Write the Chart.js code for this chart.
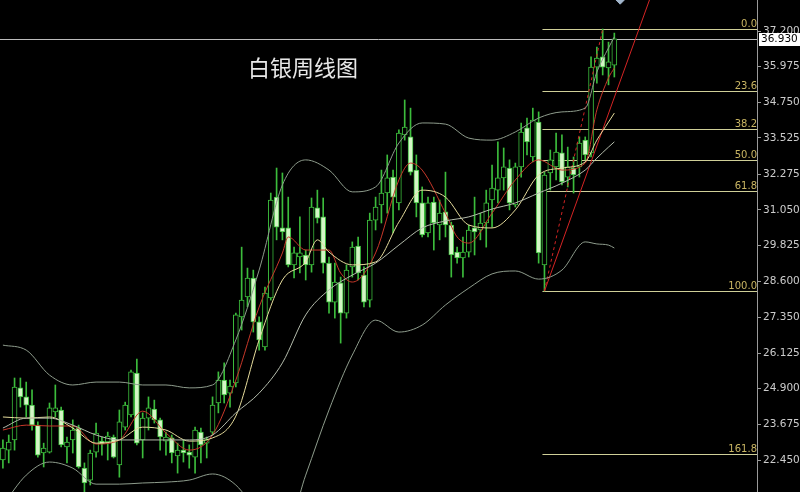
<!DOCTYPE html>
<html>
<head>
<meta charset="utf-8">
<script src="https://cdn.jsdelivr.net/npm/chart.js@4.4.1/dist/chart.umd.min.js"></script>
<style>
  html, body { margin: 0; padding: 0; background: #000; }
  #wrap { width: 800px; height: 492px; position: relative; }
</style>
</head>
<body>
<div id="wrap"><canvas id="silverWeekly"></canvas></div>
<script>
const chartTitle = "白银周线图";
const categories = Array.from({ length: 130 }, (_, i) => "W" + (i + 1));

// weekly candles
const opens = [
  22.45, 22.79, 23.14, 24.93, 24.62, 24.34, 23.65, 22.69, 22.72, 24.10,
  24.17, 22.90, 23.14, 23.55, 22.17, 21.76, 22.72, 23.10, 23.07, 23.24,
  22.28, 23.58, 24.00, 25.44, 23.14, 23.89, 24.20, 23.83, 23.10, 23.21,
  22.59, 22.79, 22.72, 22.55, 23.41, 23.03, 23.41, 24.41, 25.20, 24.75,
  25.10, 27.37, 28.06, 28.71, 27.20, 26.34, 28.02, 31.49, 30.43, 30.43,
  29.16, 29.43, 29.50, 29.16, 31.12, 30.81, 29.22, 27.88, 28.54, 27.50,
  29.09, 29.81, 28.81, 27.95, 30.70, 31.22, 31.63, 32.18, 31.29, 33.63,
  33.56, 32.42, 31.29, 30.26, 31.32, 30.53, 30.98, 30.53, 29.60, 29.40,
  29.60, 30.43, 30.36, 30.60, 31.39, 31.73, 32.15, 32.49, 31.22, 32.53,
  33.87, 32.87, 34.07, 29.16, 32.32, 32.53, 33.01, 32.18, 32.49, 32.53,
  33.45, 33.01, 35.96, 36.31, 35.93, 36.03
];
const highs = [
  23.14, 23.31, 25.27, 25.27, 25.13, 24.86, 23.76, 23.03, 24.41, 25.03,
  24.27, 23.24, 23.83, 23.65, 22.35, 22.79, 23.72, 23.24, 23.41, 23.31,
  24.17, 24.44, 25.54, 25.92, 24.07, 24.62, 24.51, 23.89, 23.41, 23.31,
  23.03, 23.14, 22.97, 23.58, 23.55, 23.24, 24.62, 25.48, 25.79, 25.20,
  27.50, 29.77, 29.05, 28.98, 27.37, 28.40, 31.63, 32.49, 32.32, 31.49,
  29.77, 30.81, 29.67, 31.46, 31.73, 31.46, 29.43, 29.22, 28.74, 29.16,
  29.95, 30.12, 29.09, 30.94, 31.49, 32.42, 32.94, 32.42, 33.80, 34.83,
  34.55, 32.94, 31.84, 31.49, 31.49, 31.39, 32.35, 30.63, 29.77, 30.12,
  30.53, 31.49, 30.94, 31.73, 32.59, 33.39, 33.18, 32.77, 32.66, 34.04,
  34.21, 34.55, 34.42, 32.35, 33.11, 33.69, 33.63, 33.21, 32.87, 33.56,
  33.56, 36.31, 36.65, 37.27, 36.82, 37.13
];
const lows = [
  22.17, 22.35, 22.79, 24.27, 23.93, 23.48, 22.55, 22.21, 22.69, 23.93,
  22.90, 22.35, 22.69, 22.17, 21.35, 21.59, 22.55, 22.62, 22.45, 22.52,
  21.86, 23.48, 23.93, 22.97, 22.52, 23.48, 23.72, 22.79, 22.62, 22.35,
  22.00, 22.38, 22.17, 22.00, 22.35, 22.52, 23.31, 24.07, 24.41, 24.27,
  24.96, 26.92, 27.71, 26.85, 26.23, 26.23, 27.95, 30.02, 30.02, 29.09,
  28.71, 28.88, 28.64, 28.91, 30.60, 28.88, 27.50, 27.33, 26.47, 27.33,
  28.74, 28.64, 27.71, 27.71, 30.36, 30.60, 30.94, 30.26, 31.05, 33.45,
  32.25, 30.81, 30.12, 30.12, 29.67, 30.02, 30.12, 28.74, 29.22, 28.74,
  29.43, 29.50, 30.02, 29.77, 30.46, 31.29, 31.73, 31.05, 31.15, 32.18,
  32.94, 32.70, 29.22, 28.26, 31.73, 32.08, 31.91, 31.84, 31.63, 32.18,
  32.77, 32.87, 35.41, 35.69, 35.35, 35.62
];
const closes = [
  22.86, 23.07, 24.96, 24.62, 24.34, 23.65, 22.62, 22.86, 24.24, 24.24,
  22.97, 23.07, 23.48, 22.21, 21.66, 22.69, 23.38, 23.00, 23.27, 22.55,
  23.76, 24.34, 25.48, 23.03, 23.89, 24.24, 23.83, 23.24, 23.24, 22.69,
  22.79, 22.69, 22.62, 23.48, 22.97, 23.14, 24.34, 25.20, 24.69, 24.99,
  27.44, 27.95, 28.71, 27.20, 26.58, 28.19, 31.39, 30.46, 30.29, 29.16,
  29.57, 29.57, 29.16, 31.15, 30.77, 29.22, 27.88, 28.57, 27.50, 28.98,
  29.77, 28.88, 27.88, 30.70, 31.15, 31.63, 32.15, 31.49, 33.69, 33.90,
  32.35, 31.29, 30.19, 31.29, 30.60, 30.94, 30.53, 29.50, 29.40, 29.60,
  30.36, 30.29, 30.60, 31.29, 31.80, 32.15, 32.53, 31.29, 32.53, 33.73,
  33.39, 34.14, 29.57, 32.25, 32.77, 33.04, 32.01, 32.53, 32.25, 33.35,
  32.94, 35.96, 36.27, 35.96, 36.14, 36.93
];

// indicator lines at these week indexes
const bandIdx = [0, 4, 8, 12, 16, 20, 24, 28, 32, 36, 40, 44, 48, 52, 56, 60, 64, 68, 72, 76, 80, 84, 88, 92, 96, 100, 102, 104, 105];
const upperBand = [26.40, 26.23, 25.37, 25.03, 25.13, 25.13, 25.03, 25.03, 24.93, 25.03, 26.58, 28.98, 31.91, 32.77, 32.42, 31.67, 31.84, 33.35, 34.04, 34.00, 33.52, 33.45, 33.73, 34.21, 34.42, 34.55, 35.79, 36.62, 37.00];
const midBand = [23.55, 23.89, 23.89, 23.65, 23.31, 23.14, 23.14, 23.14, 23.14, 23.31, 24.07, 24.75, 25.79, 27.44, 28.30, 28.81, 29.22, 29.84, 30.43, 30.67, 30.81, 31.08, 31.29, 31.63, 31.97, 32.42, 32.83, 33.21, 33.39];
const lowerBand = [20.90, 21.93, 22.38, 22.17, 21.62, 21.62, 21.66, 21.69, 21.76, 21.97, 21.59, 20.56, 19.70, 21.93, 24.17, 26.06, 27.26, 26.85, 27.09, 27.78, 28.36, 28.85, 28.95, 28.67, 28.98, 29.95, 29.88, 29.84, 29.74];

const yellowIdx = [0, 4, 8, 12, 16, 20, 24, 28, 32, 36, 40, 44, 48, 52, 54, 56, 60, 64, 68, 72, 76, 80, 84, 88, 92, 96, 100, 102, 104, 105];
const maYellow = [23.93, 23.89, 23.93, 23.55, 23.03, 23.14, 23.58, 23.48, 23.10, 23.21, 23.96, 26.58, 28.64, 29.26, 30.02, 29.60, 29.16, 29.26, 30.63, 31.73, 31.49, 30.53, 30.43, 31.05, 32.25, 32.49, 32.70, 33.45, 34.07, 34.38];

const redIdx = [0, 4, 8, 12, 16, 20, 24, 28, 32, 36, 40, 44, 48, 49, 52, 56, 58, 60, 64, 68, 70, 72, 76, 78, 80, 84, 88, 92, 96, 100, 102, 104, 105];
const maRed = [23.48, 23.65, 23.62, 23.62, 23.00, 23.14, 24.13, 23.38, 22.79, 23.31, 25.20, 27.71, 29.57, 30.12, 29.67, 29.67, 28.88, 28.57, 29.57, 32.08, 32.66, 32.42, 30.94, 30.12, 29.91, 30.94, 32.08, 32.77, 32.42, 32.66, 34.49, 35.59, 35.93];

// fibonacci retracement (low week 93 -> high week 103) and the red trend line
const fibLabels = ["0.0", "23.6", "38.2", "50.0", "61.8", "100.0", "161.8"];
const fibPrices = [37.27, 35.14, 33.82, 32.76, 31.69, 28.26, 22.66];
const fibStartIdx = 93;
const fibDiagIdx = [93, 103];
const fibDiag = [28.26, 37.27];
const trendIdx = [93, 115];
const trendVals = [28.26, 40.47];
const markerIdx = [106];
const markerVals = [38.33];

const lastPrice = 36.93;
const tickValues = [37.2, 35.975, 34.75, 33.525, 32.275, 31.05, 29.825, 28.6, 27.35, 26.125, 24.9, 23.675, 22.45];

function sparse(idx, vals) {
  const out = new Array(categories.length).fill(null);
  idx.forEach((k, j) => { out[k] = vals[j]; });
  return out;
}

const candleEdge = "#3cbc3c";
const downFill = "#d4f6c6";
const isUp = opens.map((o, i) => closes[i] >= o);

function lineSet(data, color, extra) {
  return Object.assign({
    type: "line",
    data: data,
    borderColor: color,
    borderWidth: 1,
    pointRadius: 0,
    spanGaps: true,
    cubicInterpolationMode: "monotone",
    order: 0
  }, extra || {});
}

const overlay = {
  id: "overlay",
  beforeDatasetsDraw(chart) {
    const { ctx, chartArea, scales } = chart;
    const x = scales.x, y = scales.y;
    ctx.save();
    ctx.lineWidth = 1;

    const py = Math.round(y.getPixelForValue(lastPrice)) + 0.5;
    ctx.strokeStyle = "#bcbcbc";
    ctx.beginPath();
    ctx.moveTo(chartArea.left, py);
    ctx.lineTo(chartArea.right, py);
    ctx.stroke();

    const fx = x.getPixelForValue(fibStartIdx) - 2;
    ctx.font = '10px "DejaVu Sans"';
    ctx.textAlign = "right";
    ctx.textBaseline = "alphabetic";
    fibPrices.forEach((p, i) => {
      const fy = Math.round(y.getPixelForValue(p)) + 0.5;
      ctx.strokeStyle = "#cfcf98";
      ctx.beginPath();
      ctx.moveTo(fx, fy);
      ctx.lineTo(chartArea.right, fy);
      ctx.stroke();
      ctx.fillStyle = "#c9b563";
      ctx.fillText(fibLabels[i], chartArea.right, fy - 2.5);
    });
    ctx.restore();
  },
  afterDraw(chart) {
    const { ctx, chartArea, scales } = chart;
    const y = scales.y;
    ctx.save();
    ctx.font = '22px "Noto Sans CJK SC"';
    ctx.fillStyle = "#e8e8e8";
    ctx.textAlign = "left";
    ctx.textBaseline = "middle";
    ctx.fillText(chartTitle, 248, 68);

    const py = Math.round(y.getPixelForValue(lastPrice));
    ctx.fillStyle = "#ffffff";
    ctx.fillRect(chartArea.right + 2, py - 6, chart.width - chartArea.right - 2, 13);
    ctx.fillStyle = "#000000";
    ctx.font = '10.5px "DejaVu Sans"';
    ctx.fillText(lastPrice.toFixed(3), chartArea.right + 4, py + 0.5);
    ctx.restore();
  }
};

new Chart(document.getElementById("silverWeekly"), {
  type: "bar",
  data: {
    labels: categories,
    datasets: [
      {
        label: "wick",
        data: lows.map((l, i) => [l, highs[i]]),
        backgroundColor: candleEdge,
        borderWidth: 0,
        barThickness: 1,
        grouped: false,
        order: 2
      },
      {
        label: "body",
        data: opens.map((o, i) => [o, closes[i]]),
        backgroundColor: isUp.map(u => (u ? "#000000" : downFill)),
        borderColor: candleEdge,
        borderWidth: 1,
        borderSkipped: false,
        barThickness: 5,
        grouped: false,
        order: 1
      },
      lineSet(sparse(bandIdx, upperBand), "#8e9c8c"),
      lineSet(sparse(bandIdx, lowerBand), "#8e9c8c"),
      lineSet(sparse(bandIdx, midBand), "#b4bcac"),
      lineSet(sparse(yellowIdx, maYellow), "#e6dc9c"),
      lineSet(sparse(redIdx, maRed), "#c8382a"),
      lineSet(sparse(trendIdx, trendVals), "#d42424", { cubicInterpolationMode: "default", tension: 0 }),
      lineSet(sparse(fibDiagIdx, fibDiag), "#d42424", { cubicInterpolationMode: "default", tension: 0, borderDash: [3, 3] }),
      lineSet(sparse(markerIdx, markerVals), "#a2b6cc", { showLine: false, pointRadius: 6, pointStyle: "rectRot", backgroundColor: "#a2b6cc" })
    ]
  },
  options: {
    responsive: true,
    maintainAspectRatio: false,
    animation: false,
    layout: { padding: 0, autoPadding: false },
    plugins: {
      legend: { display: false },
      tooltip: { enabled: false },
      title: { display: false }
    },
    scales: {
      x: {
        type: "category",
        display: false,
        offset: true,
        grid: { display: false }
      },
      y: {
        position: "right",
        min: 21.35,
        max: 38.268,
        afterBuildTicks: s => { s.ticks = tickValues.map(v => ({ value: v })); },
        afterFit: s => { s.width = 43; s.paddingTop = 0; s.paddingBottom = 0; },
        ticks: {
          autoSkip: false,
          color: "#cccccc",
          padding: 2,
          font: { family: "DejaVu Sans", size: 10.5 },
          callback: v => Number(v).toFixed(3)
        },
        grid: { drawOnChartArea: false, drawTicks: true, tickLength: 4, color: "#9a9a9a" },
        border: { display: true, color: "#9a9a9a" }
      }
    }
  },
  plugins: [overlay]
});
</script>
</body>
</html>
